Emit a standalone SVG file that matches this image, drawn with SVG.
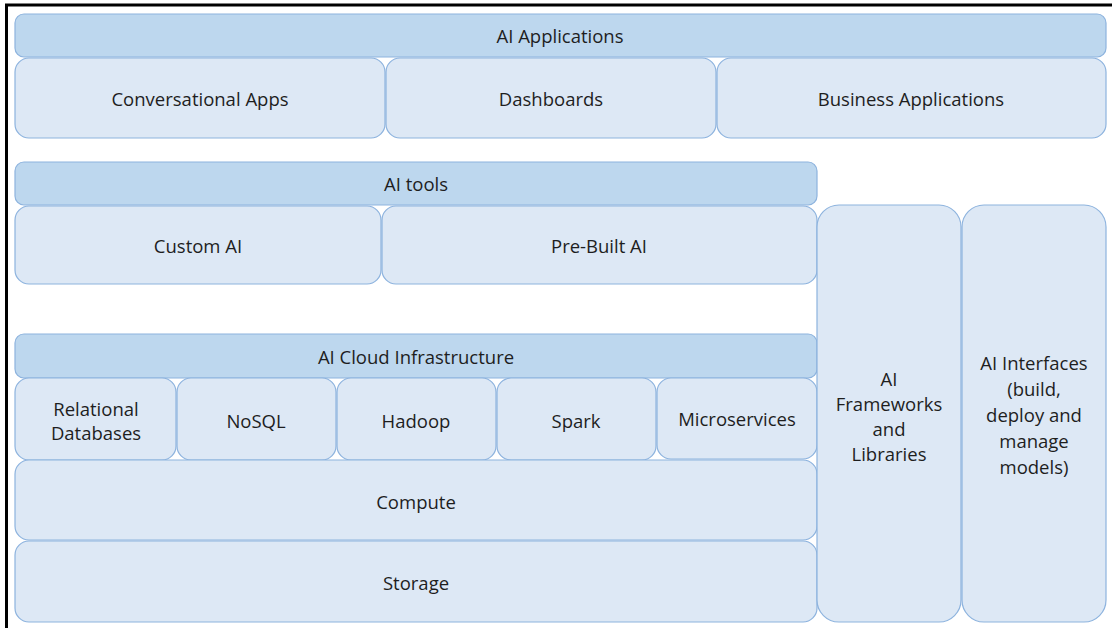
<svg xmlns="http://www.w3.org/2000/svg" width="1112" height="628" viewBox="0 0 1112 628">
<style>
.h{fill:#bdd7ee;stroke:#8db3de;stroke-width:1.2}
.b{fill:#dde8f5;stroke:#8db3de;stroke-width:1.2}
text{font-family:"Open Sans","Liberation Sans",sans-serif;font-size:18.5px;fill:#1e1e1e;text-anchor:middle;dominant-baseline:central}
</style>
<rect x="0" y="0" width="1112" height="628" fill="#fff"/>
<path d="M6.5,628 V5 H1112" fill="none" stroke="#000" stroke-width="3"/>
<g id="ai-applications"><rect class="h" x="15" y="14" width="1091" height="43" rx="9"/><text x="560" y="35">AI Applications</text></g>
<g id="conversational-apps"><rect class="b" x="15" y="58" width="370" height="80" rx="14"/><text x="200" y="98">Conversational Apps</text></g>
<g id="dashboards"><rect class="b" x="386" y="58" width="330" height="80" rx="14"/><text x="551" y="98">Dashboards</text></g>
<g id="business-applications"><rect class="b" x="717" y="58" width="389" height="80" rx="14"/><text x="911" y="98">Business Applications</text></g>
<g id="ai-tools"><rect class="h" x="15" y="162" width="802" height="43" rx="9"/><text x="416" y="183">AI tools</text></g>
<g id="custom-ai"><rect class="b" x="15" y="206" width="366" height="78" rx="14"/><text x="198" y="245">Custom AI</text></g>
<g id="pre-built-ai"><rect class="b" x="382" y="206" width="435" height="78" rx="14"/><text x="599" y="245">Pre-Built AI</text></g>
<g id="ai-cloud-infrastructure"><rect class="h" x="15" y="334" width="802" height="44" rx="9"/><text x="416" y="356">AI Cloud Infrastructure</text></g>
<g id="relational-databases"><rect class="b" x="15" y="378" width="161" height="82" rx="14"/><text x="96" y="408">Relational</text><text x="96" y="432">Databases</text></g>
<g id="nosql"><rect class="b" x="177" y="378" width="159" height="82" rx="14"/><text x="256" y="420">NoSQL</text></g>
<g id="hadoop"><rect class="b" x="337" y="378" width="159" height="82" rx="14"/><text x="416" y="420">Hadoop</text></g>
<g id="spark"><rect class="b" x="497" y="378" width="159" height="82" rx="14"/><text x="576" y="420">Spark</text></g>
<g id="microservices"><rect class="b" x="657" y="378" width="160" height="81" rx="14"/><text x="737" y="418">Microservices</text></g>
<g id="compute"><rect class="b" x="15" y="460" width="802" height="80" rx="14"/><text x="416" y="501">Compute</text></g>
<g id="storage"><rect class="b" x="15" y="541" width="802" height="81" rx="14"/><text x="416" y="582">Storage</text></g>
<g id="ai-frameworks"><rect class="b" x="817" y="205" width="144" height="417" rx="22"/><text x="889" y="378">AI</text><text x="889" y="403">Frameworks</text><text x="889" y="428">and</text><text x="889" y="453">Libraries</text></g>
<g id="ai-interfaces"><rect class="b" x="962" y="205" width="144" height="417" rx="22"/><text x="1034" y="362">AI Interfaces</text><text x="1034" y="388">(build,</text><text x="1034" y="414">deploy and</text><text x="1034" y="440">manage</text><text x="1034" y="466">models)</text></g>
<g id="connectors"></g>
</svg>
